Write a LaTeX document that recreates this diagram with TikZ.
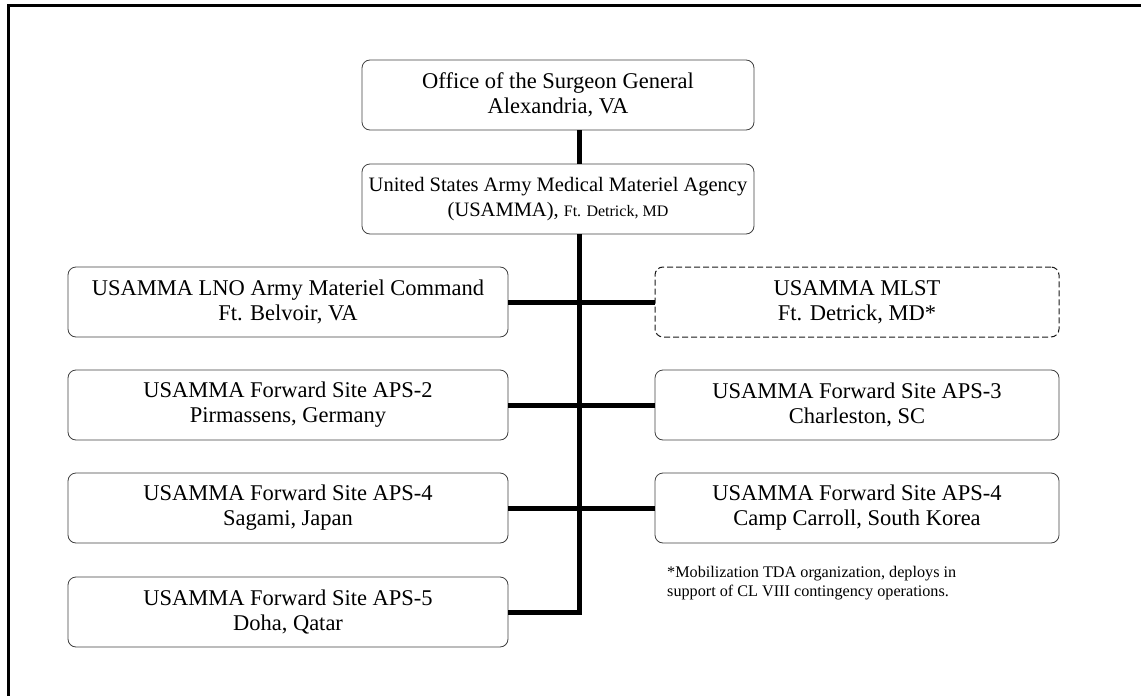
\documentclass[tikz,border=0pt]{standalone}
\usepackage{fontspec}
\setmainfont{Liberation Serif}
\tikzset{
  unit/.style={draw=black!75, rounded corners=8pt, line width=0.8pt,
    minimum height=70pt, inner sep=0pt, align=center,
    font=\fontsize{22.5}{25}\selectfont},
  link/.style={line width=5pt, line join=miter},
}
\begin{document}
\begin{tikzpicture}[x=1pt,y=-1pt]
  \useasboundingbox (0,0) rectangle (1141,696);
  % page frame (only top and left edge show)
  \draw[line width=3pt] (8,696) -- (8,5.5) -- (1141,5.5);

  % Top of the chart
  \node[unit, minimum width=392pt] (osg) at (558,95)
    {Office of the Surgeon General\\Alexandria, VA};
  \node[unit, minimum width=392pt, font=\fontsize{20.5}{25}\selectfont] (hq) at (558,199)
    {United States Army Medical Materiel Agency\\(USAMMA), {\fontsize{16}{25}\selectfont Ft. Detrick, MD}};

  % Left column
  \node[unit, minimum width=440pt] (lno) at (288,302)
    {USAMMA LNO Army Materiel Command\\Ft. Belvoir, VA};
  \node[unit, minimum width=440pt] (aps2) at (288,405)
    {USAMMA Forward Site APS-2\\Pirmassens, Germany};
  \node[unit, minimum width=440pt] (aps4j) at (288,508)
    {USAMMA Forward Site APS-4\\Sagami, Japan};
  \node[unit, minimum width=440pt] (aps5) at (288,612)
    {USAMMA Forward Site APS-5\\Doha, Qatar};

  % Right column
  \node[unit, minimum width=404pt, draw=black!90, line width=1pt,
    dash pattern=on 6pt off 3pt] (mlst) at (857,302)
    {USAMMA MLST\\Ft. Detrick, MD*};
  \node[unit, minimum width=404pt] (aps3) at (857,405)
    {USAMMA Forward Site APS-3\\Charleston, SC};
  \node[unit, minimum width=404pt] (aps4k) at (857,508)
    {USAMMA Forward Site APS-4\\Camp Carroll, South Korea};

  % footnote
  \node[anchor=north west, inner sep=0pt, align=left,
    font=\fontsize{16.2}{19}\selectfont] (note) at (667,566)
    {*Mobilization TDA organization, deploys in\\support of CL VIII contingency operations.};

  % Spine and branches
  \coordinate (spine) at (579,0);
  \draw[link] (osg.south -| spine) -- (hq.north -| spine);
  \draw[link] (hq.south -| spine) -- (spine |- aps5.east) -- (aps5.east);
  \foreach \l/\r in {lno/mlst, aps2/aps3, aps4j/aps4k}
    \draw[link] (\l.east) -- (\r.west);
\end{tikzpicture}
\end{document}
